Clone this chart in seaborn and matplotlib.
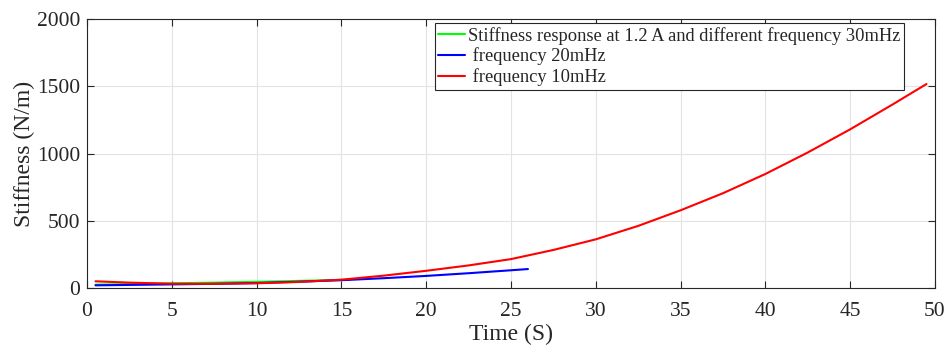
import numpy as np
import pandas as pd
import seaborn as sns
import matplotlib.pyplot as plt

# Dados
t_green = [0.5, 2.5, 5, 7.5, 10, 12.5, 15.5]
k_green = [25, 29, 35, 40, 46, 53, 62]

t_blue = [0.5, 2.5, 5, 7.5, 10, 12.5, 15, 17.5, 20, 22.5, 25, 26]
k_blue = [20, 23, 27, 31, 37, 47, 58, 73, 90, 110, 132, 141]

t_red = [0.5, 2.5, 5, 7.5, 10, 12.5, 15, 17.5, 20, 22.5, 25, 27.5, 30,
         32.5, 35, 37.5, 40, 42.5, 45, 47.5, 49.5]
k_red = [50, 40, 32, 31, 35, 45, 62, 92, 128, 168, 215, 283, 362,
         462, 578, 705, 848, 1008, 1180, 1365, 1517]

labels = ["Stiffness response at 1.2 A and different frequency 30mHz",
          " frequency 20mHz",
          " frequency 10mHz"]
cores = ["#00ff00", "#0000ff", "#ff0000"]

sns.set_theme(style="whitegrid")
plt.rcParams["font.family"] = ["Liberation Serif", "DejaVu Serif"]

fig = plt.figure(figsize=(9.47, 3.47), dpi=100)
ax = fig.add_axes([0.0919, 0.170, 0.8954, 0.775])

series = [(t_green, k_green), (t_blue, k_blue), (t_red, k_red)]
for (t, k), lab, c in zip(series, labels, cores):
    df = pd.DataFrame({"t": t, "k": k})
    sns.lineplot(data=df, x="t", y="k", color=c, linewidth=1.5, label=lab, ax=ax)

ax.set_xlim(0, 50)
ax.set_ylim(0, 2000)
ax.set_xticks(np.arange(0, 51, 5))
ax.set_yticks(np.arange(0, 2001, 500))
ax.set_xlabel("Time (S)", fontsize=17, color="#262626", labelpad=2)
ax.set_ylabel("Stiffness (N/m)", fontsize=17, color="#262626", labelpad=1)

ax.grid(True, color="#e3e3e3", linewidth=0.8)
for s in ax.spines.values():
    s.set_visible(True)
    s.set_color("#262626")
    s.set_linewidth(0.8)
ax.tick_params(axis="both", which="both", direction="in", length=5, width=0.8,
               top=True, right=True, bottom=True, left=True,
               labelsize=15.5, colors="#262626", pad=5)
ax.tick_params(axis="x", pad=10)

leg = ax.legend(loc="upper right", bbox_to_anchor=(0.9634, 0.985), fontsize=13.3,
                frameon=True, fancybox=False, handlelength=1.45, handletextpad=0.15,
                borderpad=0.2, labelspacing=0.15, borderaxespad=0)
leg.get_frame().set_edgecolor("#262626")
leg.get_frame().set_linewidth(0.8)
leg.get_frame().set_alpha(1)

plt.savefig("out.png", dpi=100)
plt.close()
